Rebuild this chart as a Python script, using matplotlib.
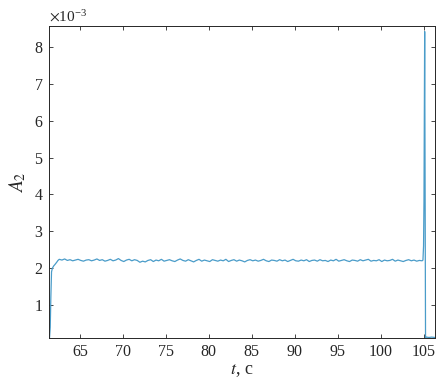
import numpy as np
import matplotlib
matplotlib.use("Agg")
import matplotlib.pyplot as plt
from matplotlib.ticker import ScalarFormatter

plt.rcParams['font.family'] = ['Liberation Serif', 'DejaVu Serif']
plt.rcParams['mathtext.fontset'] = 'stix'

# start transient (t, A2 in units of 1e-3)
t_start = [61.45, 61.55, 61.62, 61.70, 61.80, 61.95, 62.10, 62.30, 62.45]
a_start = [0.05, 0.40, 1.20, 1.90, 2.00, 2.06, 2.10, 2.16, 2.21]

# plateau
plateau_vals = [
    2.24, 2.22, 2.25, 2.21, 2.23, 2.20, 2.22, 2.24, 2.21, 2.19, 2.22, 2.23, 2.20, 2.22, 2.25, 2.21, 2.23, 2.19, 2.21, 2.24,
    2.20, 2.22, 2.26, 2.21, 2.18, 2.22, 2.24, 2.20, 2.23, 2.21, 2.16, 2.19, 2.17, 2.21, 2.23, 2.18, 2.22, 2.20, 2.24, 2.19,
    2.21, 2.23, 2.20, 2.18, 2.22, 2.25, 2.21, 2.19, 2.23, 2.20, 2.17, 2.21, 2.24, 2.19, 2.22, 2.20, 2.18, 2.23, 2.21, 2.19,
    2.22, 2.20, 2.24, 2.18, 2.21, 2.23, 2.19, 2.22, 2.20, 2.17, 2.21, 2.23, 2.20, 2.22, 2.19, 2.21, 2.24, 2.20, 2.18, 2.22,
    2.21, 2.19, 2.23, 2.20, 2.22, 2.18, 2.21, 2.24, 2.20, 2.19, 2.22, 2.20, 2.23, 2.18, 2.21, 2.22, 2.19, 2.23, 2.20, 2.21,
    2.18, 2.22, 2.20, 2.24, 2.19, 2.21, 2.23, 2.20, 2.18, 2.22, 2.21, 2.19, 2.23, 2.20, 2.22, 2.24, 2.19, 2.21, 2.20, 2.23,
    2.18, 2.22, 2.20, 2.21, 2.24, 2.19, 2.22, 2.20, 2.18, 2.21, 2.23, 2.20, 2.22, 2.19, 2.21, 2.20,
]
t_plateau_range = (62.6, 104.8)

# end spike
t_end = [104.90, 104.97, 105.02, 105.06, 105.10, 105.16, 105.20, 105.30, 105.60, 105.90, 106.30]
a_end = [2.22, 2.60, 3.80, 6.00, 8.42, 4.00, 0.12, 0.13, 0.12, 0.13, 0.12]

t_plateau = np.linspace(t_plateau_range[0], t_plateau_range[1], len(plateau_vals))
t = np.concatenate([t_start, t_plateau, t_end])
a = np.concatenate([a_start, plateau_vals, a_end]) * 1e-3

fig = plt.figure(figsize=(4.45, 3.91), dpi=100)
ax = fig.add_axes([0.110, 0.1355, 0.8675, 0.798])
ax.plot(t, a, color='#4a9cc9', lw=0.9)

ax.set_xlim(61.4, 106.3)
ax.set_ylim(0.105e-3, 8.57e-3)
ax.set_xticks([65, 70, 75, 80, 85, 90, 95, 100, 105])
ax.set_yticks(np.array([1, 2, 3, 4, 5, 6, 7, 8]) * 1e-3)
fmt = ScalarFormatter(useMathText=True)
fmt.set_powerlimits((-2, 2))
ax.yaxis.set_major_formatter(fmt)
ax.yaxis.get_offset_text().set_fontsize(11)

ax.tick_params(direction='in', length=3, width=0.6, top=True, right=True,
               labelsize=11.5, colors='#262626', pad=4)
for s in ax.spines.values():
    s.set_linewidth(0.7)
    s.set_color('#262626')

ax.set_xlabel('$t$, c', fontsize=13, color='#262626', labelpad=2)
ax.set_ylabel('$A_2$', fontsize=14, color='#262626', labelpad=4)

fig.savefig('out.png', dpi=100)
